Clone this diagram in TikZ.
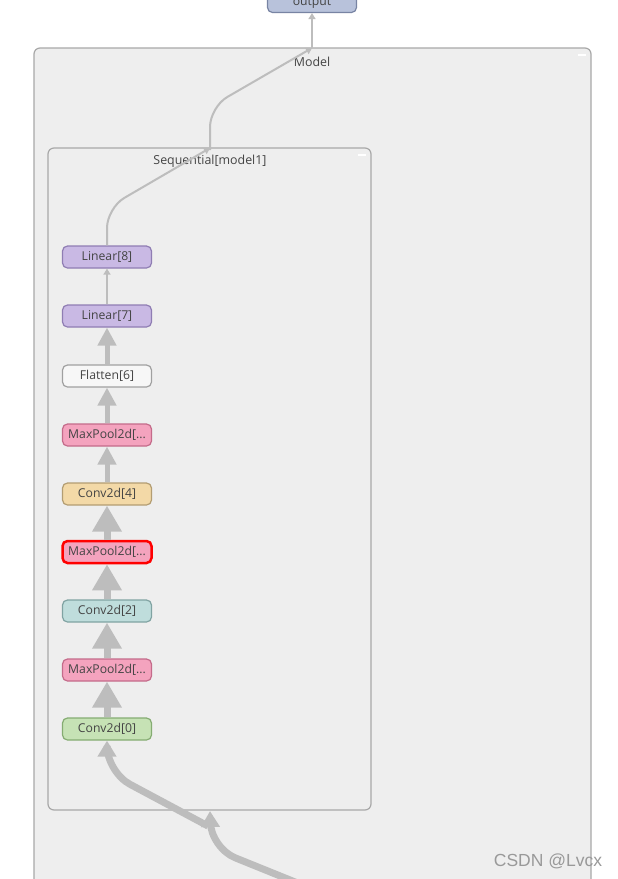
\documentclass[tikz,border=0pt]{standalone}
\usepackage{fontspec}
\setmainfont{Open Sans}
\newfontfamily\wmfont{Liberation Sans}
\usetikzlibrary{arrows.meta}
\definecolor{boxfill}{HTML}{EEEEEE}
\definecolor{boxline}{HTML}{A8A8A8}
\definecolor{edgec}{HTML}{BDBDBD}
\definecolor{txt}{HTML}{444444}
\definecolor{outfill}{HTML}{B8C2DB}
\definecolor{outline}{HTML}{7884A3}
\definecolor{linfill}{HTML}{C9B9E4}
\definecolor{linline}{HTML}{8F7DB3}
\definecolor{flatfill}{HTML}{F7F7F7}
\definecolor{flatline}{HTML}{A0A0A0}
\definecolor{poolfill}{HTML}{F4A3BE}
\definecolor{poolline}{HTML}{C46B8A}
\definecolor{convafill}{HTML}{F3D9A7}
\definecolor{convaline}{HTML}{B39D72}
\definecolor{convbfill}{HTML}{BFDDDC}
\definecolor{convbline}{HTML}{80A3A2}
\definecolor{convcfill}{HTML}{C6E2B5}
\definecolor{convcline}{HTML}{85AC72}
\begin{document}
\begin{tikzpicture}[x=1pt,y=-1pt,
  opnode/.style={rounded corners=5pt, minimum width=89pt, minimum height=22pt,
    line width=1.2pt, inner sep=0pt, text=txt, font=\fontsize{12.2}{14}\selectfont},
  group/.style={draw=boxline, fill=boxfill, line width=1.2pt, rounded corners=6pt},
  grouplabel/.style={text=txt, font=\fontsize{12.4}{14}\selectfont},
  edge/.style={draw=edgec, line cap=butt},
  thinedge/.style={edge, line width=2pt, -{Triangle[width=7pt,length=6pt]}},
  fatedge/.style={edge, line width=7pt, -{Triangle[width=28pt,length=26pt]}},
  midedge/.style={edge, line width=5pt, -{Triangle[width=18pt,length=18pt]}},
  inedge/.style={edge, line width=7pt, rounded corners=26pt, -{Triangle[width=18pt,length=16pt]}},
  outedge/.style={edge, line width=2pt, rounded corners=20pt, -{Triangle[width=7pt,length=6pt]}},
  minus/.style={draw=white, line width=1.5pt}]
\useasboundingbox (0,0) rectangle (618,879);
\clip (0,0) rectangle (618,879);
\fill[white] (0,0) rectangle (618,879);
% groups
\draw[group] (34,48) rectangle (591,886);
\node[grouplabel] (modellabel) at (312,62) {Model};
\draw[minus] (578,55) -- (586,55);
\draw[group] (48,148) rectangle (371,810);
\node[grouplabel] (seqlabel) at (210,161) {Sequential[model1]};
\draw[minus] (358,155) -- (366,155);
% output
\node[opnode, fill=outfill, draw=outline, minimum height=20pt] (out) at (312,2.5) {output};
% nodes
\node[opnode, fill=linfill, draw=linline] (l8) at (107,257) {Linear[8]};
\node[opnode, fill=linfill, draw=linline] (l7) at (107,316) {Linear[7]};
\node[opnode, fill=flatfill, draw=flatline] (f6) at (107,376) {Flatten[6]};
\node[opnode, fill=poolfill, draw=poolline] (m5) at (107,435) {MaxPool2d[...};
\node[opnode, fill=convafill, draw=convaline] (c4) at (107,494) {Conv2d[4]};
\node[opnode, fill=poolfill, draw=red, line width=2.5pt] (m3) at (107,552) {MaxPool2d[...};
\node[opnode, fill=convbfill, draw=convbline] (c2) at (107,611) {Conv2d[2]};
\node[opnode, fill=poolfill, draw=poolline] (m1) at (107,670) {MaxPool2d[...};
\node[opnode, fill=convcfill, draw=convcline] (c0) at (107,729) {Conv2d[0]};
% internal edges
\draw[fatedge] (c0.north) -- (m1.south);
\draw[fatedge] (m1.north) -- (c2.south);
\draw[fatedge] (c2.north) -- (m3.south);
\draw[fatedge] (m3.north) -- (c4.south);
\draw[midedge] (c4.north) -- (m5.south);
\draw[midedge] (m5.north) -- (f6.south);
\draw[midedge] (f6.north) -- (l7.south);
\draw[thinedge] (l7.north) -- (l8.south);
% input edges
\coordinate (inbot) at (300,884);
\coordinate (seqbot) at (210,811);
\coordinate (seqstart) at (208,826);
\draw[inedge] (inbot) -- (211,848) -- (seqbot);
\draw[inedge] (seqstart) -- (107,772) -- (c0.south);
% output edges
\coordinate (seqtop) at (210,148);
\coordinate (seqtop2) at (210,150);
\coordinate (modtop) at (312,48);
\draw[outedge] (l8.north) -- (107,208) -- (seqtop);
\draw[outedge] (seqtop2) -- (210,107) -- (modtop);
\draw[thinedge] (modtop) -- (out.south);
% watermark
\node[text=black!40, font=\fontsize{17.5}{20}\selectfont\wmfont] (wm) at (548,861) {CSDN @Lvcx};
\end{tikzpicture}
\end{document}
